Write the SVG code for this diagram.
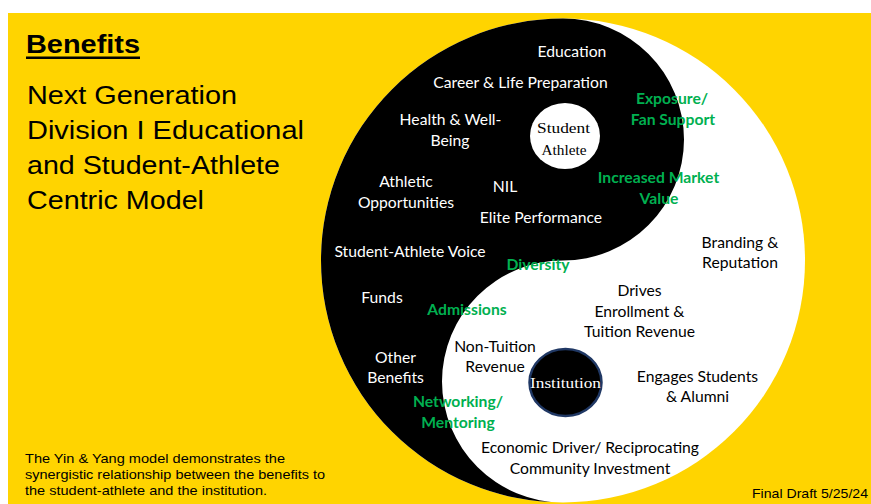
<svg xmlns="http://www.w3.org/2000/svg" width="871" height="504" viewBox="0 0 871 504">
  <style>
    .ttl { font-family: "Liberation Sans", Arial, sans-serif; fill: #000; }
    .lbl { font-family: Lato, "Open Sans", sans-serif; font-size: 15.7px; text-anchor: middle; }
    .w { fill: #fff; }
    .k { fill: #000; }
    .g { fill: #00B050; font-weight: bold; }
    .dot { font-family: "Liberation Serif", "DejaVu Serif", serif; font-size: 15.5px; text-anchor: middle; }
  </style>

  <!-- page -->
  <rect x="0" y="0" width="871" height="504" fill="#fff"/>
  <rect x="8" y="13" width="863" height="491" fill="#FFD400"/>

  <!-- heading -->
  <g id="heading">
    <text class="ttl" x="26" y="53" font-size="25.5" font-weight="bold" textLength="114" lengthAdjust="spacingAndGlyphs">Benefits</text>
    <rect x="26" y="56.5" width="114" height="2.5" fill="#000"/>
    <text class="ttl" x="27" y="104" font-size="26" textLength="210" lengthAdjust="spacingAndGlyphs">Next Generation</text>
    <text class="ttl" x="27" y="139" font-size="26" textLength="277" lengthAdjust="spacingAndGlyphs">Division I Educational</text>
    <text class="ttl" x="27" y="174" font-size="26" textLength="253" lengthAdjust="spacingAndGlyphs">and Student-Athlete</text>
    <text class="ttl" x="27" y="209" font-size="26" textLength="177" lengthAdjust="spacingAndGlyphs">Centric Model</text>
  </g>

  <g id="caption">
    <text class="ttl" x="25" y="463" font-size="13" textLength="260" lengthAdjust="spacingAndGlyphs">The Yin &amp; Yang model demonstrates the</text>
    <text class="ttl" x="25" y="479" font-size="13" textLength="300" lengthAdjust="spacingAndGlyphs">synergistic relationship between the benefits to</text>
    <text class="ttl" x="25" y="495" font-size="13" textLength="242" lengthAdjust="spacingAndGlyphs">the student-athlete and the institution.</text>
  </g>

  <g id="draft-note">
    <text class="ttl" x="752" y="498" font-size="13" textLength="116" lengthAdjust="spacingAndGlyphs">Final Draft 5/25/24</text>
  </g>

  <!-- yin-yang -->
  <g id="yin-yang">
    <circle cx="563" cy="260.5" r="242" fill="#fff"/>
    <path d="M563 18.5 A242 242 0 0 0 563 502.5 A121 121 0 0 1 563 260.5 A121 121 0 0 0 563 18.5 Z" fill="#000"/>
  </g>

  <g id="student-athlete">
    <ellipse cx="565" cy="136" rx="35" ry="33" fill="#fff"/>
    <text class="dot k" x="563.5" y="133" textLength="53" lengthAdjust="spacingAndGlyphs">Student</text>
    <text class="dot k" x="564" y="155" textLength="45" lengthAdjust="spacingAndGlyphs">Athlete</text>
  </g>

  <g id="institution">
    <ellipse cx="565.5" cy="382.5" rx="36" ry="33.5" fill="#000" stroke="#203864" stroke-width="2.5"/>
    <text class="dot w" x="565.5" y="388" textLength="71" lengthAdjust="spacingAndGlyphs">Institution</text>
  </g>

  <!-- student-athlete benefits -->
  <g id="education"><text class="lbl w" x="572" y="57">Education</text></g>
  <g id="career"><text class="lbl w" x="520.5" y="88">Career &amp; Life Preparation</text></g>
  <g id="health">
    <text class="lbl w" x="450.5" y="125">Health &amp; Well-</text>
    <text class="lbl w" x="450" y="146">Being</text>
  </g>
  <g id="athletic">
    <text class="lbl w" x="406" y="187">Athletic</text>
    <text class="lbl w" x="406" y="208">Opportunities</text>
  </g>
  <g id="nil"><text class="lbl w" x="505" y="192">NIL</text></g>
  <g id="elite"><text class="lbl w" x="541" y="223">Elite Performance</text></g>
  <g id="voice"><text class="lbl w" x="410" y="257">Student-Athlete Voice</text></g>
  <g id="funds"><text class="lbl w" x="382" y="303">Funds</text></g>
  <g id="other">
    <text class="lbl w" x="395.5" y="363">Other</text>
    <text class="lbl w" x="395.5" y="383">Benefits</text>
  </g>

  <!-- shared benefits -->
  <g id="exposure">
    <text class="lbl g" x="672" y="104">Exposure/</text>
    <text class="lbl g" x="673" y="125">Fan Support</text>
  </g>
  <g id="market">
    <text class="lbl g" x="658.5" y="183">Increased Market</text>
    <text class="lbl g" x="659" y="204">Value</text>
  </g>
  <g id="diversity"><text class="lbl g" x="538" y="270">Diversity</text></g>
  <g id="admissions"><text class="lbl g" x="467" y="315">Admissions</text></g>
  <g id="networking">
    <text class="lbl g" x="458" y="407">Networking/</text>
    <text class="lbl g" x="458" y="428">Mentoring</text>
  </g>

  <!-- institution benefits -->
  <g id="branding">
    <text class="lbl k" x="740" y="248">Branding &amp;</text>
    <text class="lbl k" x="740" y="268">Reputation</text>
  </g>
  <g id="enrollment">
    <text class="lbl k" x="639.5" y="296">Drives</text>
    <text class="lbl k" x="639.5" y="317">Enrollment &amp;</text>
    <text class="lbl k" x="639.5" y="337">Tuition Revenue</text>
  </g>
  <g id="non-tuition">
    <text class="lbl k" x="495" y="352">Non-Tuition</text>
    <text class="lbl k" x="495" y="372">Revenue</text>
  </g>
  <g id="engages">
    <text class="lbl k" x="697.5" y="382">Engages Students</text>
    <text class="lbl k" x="697.5" y="402">&amp; Alumni</text>
  </g>
  <g id="economic">
    <text class="lbl k" x="590" y="453">Economic Driver/ Reciprocating</text>
    <text class="lbl k" x="590" y="474">Community Investment</text>
  </g>
</svg>
